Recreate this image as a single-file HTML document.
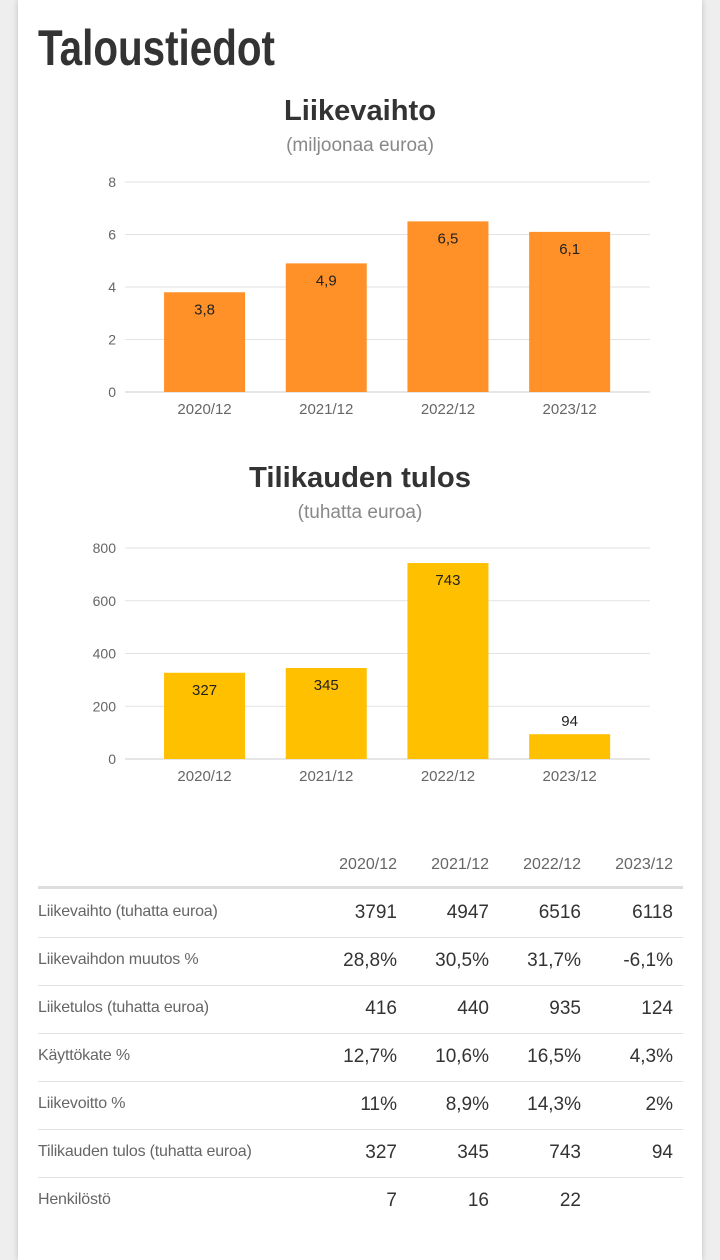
<!DOCTYPE html>
<html><head><meta charset="utf-8"><style>
body{margin:0;width:720px;height:1238px;background:#eeeeee;overflow:hidden;font-family:"Liberation Sans",sans-serif;}
#card{position:absolute;left:18px;top:0;width:684px;height:1260px;background:#fff;box-shadow:0 0 6px rgba(0,0,0,0.2);}
svg{position:absolute;left:0;top:0;}
.lbl{position:absolute;left:38px;font-size:16px;color:#666;letter-spacing:-0.2px;}
.val{position:absolute;font-size:19px;color:#333;text-align:right;width:90px;}
.hdr{position:absolute;font-size:16px;color:#666;text-align:right;width:90px;top:856px;}
.sep{position:absolute;left:38px;width:645px;height:1px;background:#e2e2e2;}
</style></head><body>
<div id="card"></div>
<svg width="720" height="840">
<text x="38" y="65" font-family="Liberation Sans" font-weight="bold" font-size="50" fill="#333" textLength="237" lengthAdjust="spacingAndGlyphs">Taloustiedot</text>
<g id="c1"></g><g id="c2"></g>
</svg>
<div id="table"></div>
<script>
const categories=["2020/12","2021/12","2022/12","2023/12"];
const revenue=[3.8,4.9,6.5,6.1];
const revenueTicks=[0,2,4,6,8];
const profit=[327,345,743,94];
const profitTicks=[0,200,400,600,800];
const rowLabels=["Liikevaihto (tuhatta euroa)","Liikevaihdon muutos %","Liiketulos (tuhatta euroa)","Käyttökate %","Liikevoitto %","Tilikauden tulos (tuhatta euroa)","Henkilöstö"];
const rowValues=[["3791","4947","6516","6118"],["28,8%","30,5%","31,7%","-6,1%"],["416","440","935","124"],["12,7%","10,6%","16,5%","4,3%"],["11%","8,9%","14,3%","2%"],["327","345","743","94"],["7","16","22",""]];
const NS="http://www.w3.org/2000/svg";
function mk(p,t,a,txt){const e=document.createElementNS(NS,t);for(const k in a)e.setAttribute(k,a[k]);if(txt!==undefined)e.textContent=txt;p.appendChild(e);return e;}
function chart(g,title,sub,ty,vals,ticks,y0,y1,color,fmt,name,tw){
 mk(g,'text',{x:360-tw/2,y:ty,'font-size':29,fill:'#333','font-weight':'bold',textLength:tw,lengthAdjust:'spacingAndGlyphs',},title);
 mk(g,'text',{x:360,y:ty+31,'text-anchor':'middle','font-size':19,fill:'#888',},sub);
 const max=ticks[ticks.length-1];const y=v=>y0-(y0-y1)*v/max;
 ticks.forEach(t=>{mk(g,'line',{x1:125,x2:650,y1:y(t),y2:y(t),stroke:t===0?'#ccc':'#e2e2e2','stroke-width':1});
  const tl=mk(g,'text',{x:116,y:y(t)+5,'text-anchor':'end','font-size':14,fill:'#666'},String(t));
  });
 const x0=143.7,bw=121.7;
 vals.forEach((v,i)=>{const cx=x0+bw*(i+0.5);
  const r=mk(g,'rect',{x:cx-40.5,y:y(v),width:81,height:y0-y(v),fill:color});
  
  const h=y0-y(v);const ly=h>30?y(v)+22:y(v)-8;
  const t=mk(g,'text',{x:cx,y:ly,'text-anchor':'middle','font-size':15,fill:'#222'},fmt(v));
  
  const c=mk(g,'text',{x:cx,y:y0+22,'text-anchor':'middle','font-size':15,fill:'#666'},categories[i]);
  });
}
chart(document.getElementById('c1'),'Liikevaihto','(miljoonaa euroa)',120,revenue,revenueTicks,392,182,'#ff9128',v=>String(v).replace('.',','),'revenue-chart',152);
chart(document.getElementById('c2'),'Tilikauden tulos','(tuhatta euroa)',487,profit,profitTicks,759,548,'#ffc000',v=>String(v),'profit-chart',222);
const tb=document.getElementById('table');
const rights=[397,489,581,673];
categories.forEach((c,i)=>{const d=document.createElement('div');d.className='hdr';d.style.left=(rights[i]-90)+'px';d.textContent=c;
 tb.appendChild(d);});
const th=document.createElement('div');th.className='sep';th.style.top='886px';th.style.height='3px';th.style.background='#ddd';
tb.appendChild(th);
rowLabels.forEach((l,r)=>{const top=900+r*48;
 const d=document.createElement('div');d.className='lbl';d.style.top=(top+3)+'px';d.textContent=l;
 tb.appendChild(d);
 rowValues[r].forEach((v,i)=>{const e=document.createElement('div');e.className='val';e.style.left=(rights[i]-90)+'px';e.style.top=(top+2)+'px';e.textContent=v;
  tb.appendChild(e);});
 if(r<rowLabels.length-1){const s=document.createElement('div');s.className='sep';s.style.top=(937+r*48)+'px';
  tb.appendChild(s);}
});
</script>
</body></html>
